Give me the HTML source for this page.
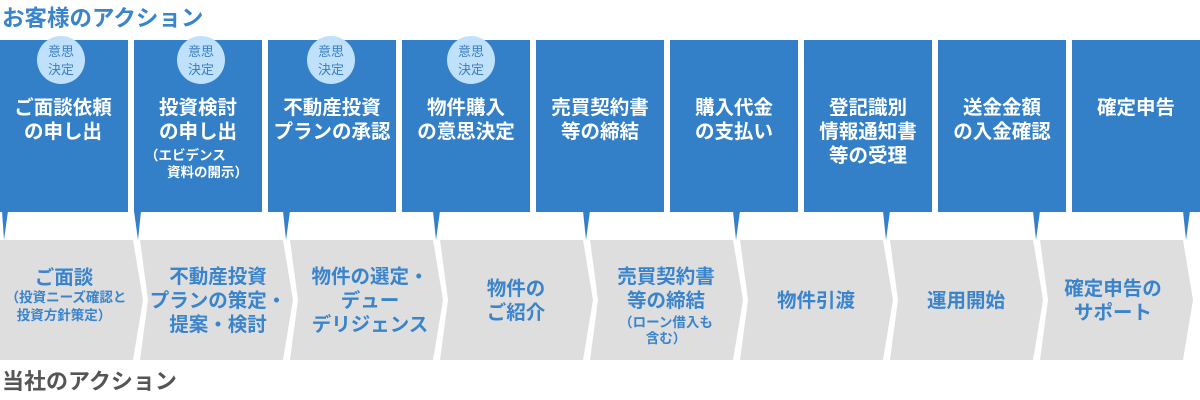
<!DOCTYPE html>
<html><head><meta charset="utf-8"><style>
html,body{margin:0;padding:0;background:#fff;width:1200px;height:400px;overflow:hidden}
svg{display:block;font-family:"Liberation Sans","Noto Sans CJK JP",sans-serif;font-weight:bold}
.w{fill:#fff;font-size:19.5px;text-anchor:middle}
.ws{fill:#fff;font-size:13.5px}
.c{fill:#3c7fc2;font-size:13px;text-anchor:middle;font-weight:normal}
.g{fill:#3a84cc;font-size:19.5px;text-anchor:middle}
.gs{fill:#3a84cc;font-size:13.5px;text-anchor:middle}
</style></head><body>
<svg width="1200" height="400" viewBox="0 0 1200 400">
<text x="2" y="26" fill="#3a84cc" font-size="22.5">お客様のアクション</text>
<text x="2" y="389" fill="#555" font-size="22">当社のアクション</text>
<g fill="#dedede">
<polygon points="0,240 133,240 143,300 133,360 0,360"/>
<polygon points="140,240 283,240 293,300 283,360 140,360 148,300"/>
<polygon points="290,240 433,240 443,300 433,360 290,360 298,300"/>
<polygon points="440,240 583,240 593,300 583,360 440,360 448,300"/>
<polygon points="590,240 733,240 743,300 733,360 590,360 598,300"/>
<polygon points="740,240 883,240 893,300 883,360 740,360 748,300"/>
<polygon points="890,240 1033,240 1043,300 1033,360 890,360 898,300"/>
<polygon points="1040,240 1183,240 1193,300 1183,360 1040,360 1048,300"/>
</g>
<g fill="#3380c8">
<rect x="0" y="40" width="128" height="172"/>
<rect x="134" y="40" width="128" height="172"/>
<rect x="268" y="40" width="128" height="172"/>
<rect x="402" y="40" width="128" height="172"/>
<rect x="536" y="40" width="128" height="172"/>
<rect x="670" y="40" width="128" height="172"/>
<rect x="804" y="40" width="128" height="172"/>
<rect x="938" y="40" width="128" height="172"/>
<rect x="1072" y="40" width="128" height="172"/>
<polygon points="2,211 8,211 4,240"/>
<polygon points="134,211 141,211 138,240"/>
<polygon points="283,211 290,211 286,240"/>
<polygon points="433,211 440,211 436,240"/>
<polygon points="583,211 590,211 586,240"/>
<polygon points="733,211 740,211 736,240"/>
<polygon points="883,211 890,211 886,240"/>
<polygon points="1033,211 1040,211 1036,240"/>
<polygon points="1183,211 1190,211 1186,240"/>
</g>
<g fill="#bfe1fb">
<circle cx="61" cy="60" r="24"/><circle cx="201" cy="60" r="24"/>
<circle cx="331" cy="60" r="24"/><circle cx="471" cy="60" r="24"/>
</g>
<text class="c" x="61" y="56">意思</text><text class="c" x="61" y="74">決定</text>
<text class="c" x="201" y="56">意思</text><text class="c" x="201" y="74">決定</text>
<text class="c" x="331" y="56">意思</text><text class="c" x="331" y="74">決定</text>
<text class="c" x="471" y="56">意思</text><text class="c" x="471" y="74">決定</text>

<text class="w" x="63" y="114">ご面談依頼</text><text class="w" x="63" y="138">の申し出</text>
<text class="w" x="198" y="114">投資検討</text><text class="w" x="198" y="138">の申し出</text>
<text class="ws" x="145" y="160">（エビデンス</text><text class="ws" x="167" y="177">資料の開示）</text>
<text class="w" x="332" y="114">不動産投資</text><text class="w" x="332" y="138">プランの承認</text>
<text class="w" x="466" y="114">物件購入</text><text class="w" x="466" y="138">の意思決定</text>
<text class="w" x="600" y="114">売買契約書</text><text class="w" x="600" y="138">等の締結</text>
<text class="w" x="734" y="114">購入代金</text><text class="w" x="734" y="138">の支払い</text>
<text class="w" x="868" y="114">登記識別</text><text class="w" x="868" y="138">情報通知書</text><text class="w" x="868" y="162">等の受理</text>
<text class="w" x="1002" y="114">送金金額</text><text class="w" x="1002" y="138">の入金確認</text>
<text class="w" x="1136" y="114">確定申告</text>

<text class="g" x="64" y="284">ご面談</text>
<text class="gs" x="66" y="302">（投資ニーズ確認と</text><text class="gs" x="64" y="320">投資方針策定）</text>
<text class="g" x="218" y="283">不動産投資</text><text class="g" x="218" y="307">プランの策定・</text><text class="g" x="218" y="331">提案・検討</text>
<text class="g" x="370" y="283">物件の選定・</text><text class="g" x="370" y="307">デュー</text><text class="g" x="370" y="331">デリジェンス</text>
<text class="g" x="516" y="295">物件の</text><text class="g" x="516" y="319">ご紹介</text>
<text class="g" x="666" y="283">売買契約書</text><text class="g" x="666" y="307">等の締結</text>
<text class="gs" x="666" y="327">（ローン借入も</text><text class="gs" x="666" y="343">含む）</text>
<text class="g" x="816" y="307">物件引渡</text>
<text class="g" x="966" y="307">運用開始</text>
<text class="g" x="1113" y="295">確定申告の</text><text class="g" x="1113" y="319">サポート</text>
</svg>
</body></html>
